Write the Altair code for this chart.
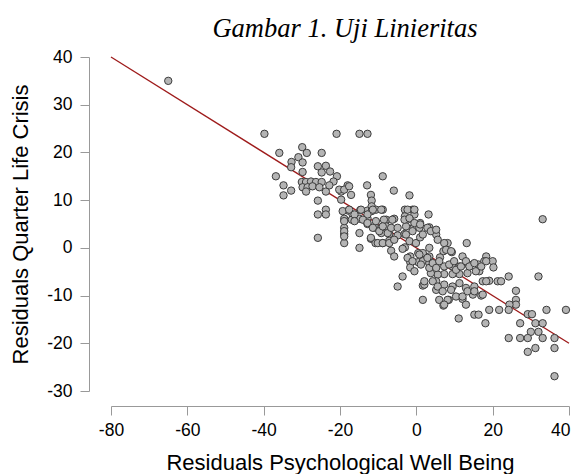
import altair as alt
import pandas as pd

title_text = "Gambar 1. Uji Linieritas"
x_title = "Residuals Psychological Well Being"
y_title = "Residuals Quarter Life Crisis"
x_ticks = [-80, -60, -40, -20, 0, 20, 40]
y_ticks = [-30, -20, -10, 0, 10, 20, 30, 40]

# regression line end points
line_x = [-80, 40]
line_y = [40, -20]

x_vals = [
    -65.0, -39.8, -20.9, -14.9, -12.8, -35.9, -29.9, -28.7, -30.9, -29.8,
    -32.7, -32.8, -24.8, -25.8, -23.7, -24.8, -22.6, -29.8, -36.8, -20.8,
    -21.7, -34.8, -32.8, -34.8, -30.0, -28.9, -27.6, -26.3, -24.8, -29.8,
    -28.5, -27.2, -25.4, -28.9, -23.7, -22.8, -19.7, -19.7, -25.8, -23.7,
    -25.8, -23.7, -25.8,
    -8.8, -18.0, -12.9, -17.1, -5.9, -1.8, -11.9, -11.7, -17.8, -16.7,
    -14.7, -12.8, -11.7, -11.7, -10.6, -8.8, -18.9, -16.9, -14.9, -12.8,
    -18.9, -18.9, -18.9, -14.9, -14.9, -12.8, -10.7, -9.2, -7.9, -7.9,
    -5.8, -9.2, -11.9, -10.7, -8.8, -7.1, -7.1, -4.9, -3.0, -3.0,
    -1.0, -1.8, -0.5, 1.0, -2.7, -0.7, -3.1, -1.8, -0.1, 1.0,
    -3.0, -6.6, -5.8, -3.6, -1.6, -1.6, -1.6, -0.5, -3.6, -4.9,
    1.7, 1.7, 0.5, 0.5,
    3.2, 3.4, 5.2, 1.7, 8.2, 13.2, 9.3, 7.1, 3.4, 3.4,
    1.7, 1.7, 3.4, 6.2, 7.3, 9.5, 11.3, 12.1, 13.7, 16.3,
    18.3, 17.8, 20.0, 20.2, 16.5, 17.4, 19.1, 13.4, 11.3, 9.5,
    7.3, 5.6, 3.8, 2.1, 5.2, 5.2, 7.3, 9.5, 11.3, 13.0,
    14.8, 15.2, 17.0, 12.1, 8.5, 6.0, 7.1, 13.0, 19.1, 15.2,
    16.3, 11.1, 18.1, 21.3, 21.7,
    24.2, 22.2, 32.0, 26.1, 26.1, 26.1, 24.4, 24.2, 29.2, 30.3,
    34.1, 39.2, 27.2, 31.2, 33.1, 30.0, 32.0, 24.2, 27.2, 29.2,
    33.1, 36.2, 31.2, 36.2, 29.2, 36.2, 33.1,
    -20.2, -18.9, -17.6, -19.3, -17.6, -16.2, -14.5, -12.8, -11.4, -9.2,
    -18.9, -16.2, -14.0, -12.8, -10.6, -8.5, -6.3, -18.9, -18.9,
    -11.4, -9.7, -8.8, -7.5, -6.6, -11.9, -10.1, -8.8, -7.1, -5.8,
    -4.9, -3.1, -1.8, -0.5, -2.3, -0.5, -2.7, -1.0, 0.8, 1.0,
    2.9, 3.8, 5.2, 5.6, 7.3, 7.8, 9.1,
    -2.3, -1.0, 0.8, 1.2, 2.9, 3.4, 4.3, 5.2, 6.0, 8.6,
    9.9, 10.4, 11.7, 13.0, 13.9, 15.2, 15.6, 17.0, 18.3,
    2.1, 4.3, 5.6, 6.9, 8.2, 7.3, 9.1, 10.4, 12.1, 13.4,
    15.2, 17.4, 18.3,
]

y_vals = [
    35.0, 23.9, 23.9, 23.9, 23.9, 19.9, 21.1, 19.9, 19.0, 17.9,
    18.0, 16.9, 19.9, 17.1, 17.2, 15.8, 16.0, 15.9, 15.0, 15.0,
    13.9, 13.1, 12.0, 11.0, 13.8, 13.8, 13.9, 13.8, 13.8, 12.7,
    12.7, 12.9, 12.7, 11.8, 11.8, 13.1, 11.8, 10.1, 9.9, 8.0,
    7.0, 7.0, 2.1,
    15.0, 13.1, 13.1, 11.1, 12.0, 11.0, 11.1, 9.9, 7.8, 7.0,
    7.9, 7.8, 8.7, 7.7, 8.0, 8.0, 6.1, 5.9, 6.1, 6.2,
    4.2, 2.9, 1.0, 3.1, 0.0, 5.0, 4.2, 4.2, 5.9, 4.5,
    6.1, 3.1, 1.9, 1.0, 1.0, 2.9, 1.5, 2.6, 8.0, 6.6,
    8.0, 6.1, 7.0, 5.2, 4.5, 4.3, 2.9, 1.4, 1.0, 2.2,
    0.1, -0.6, -1.8, -0.2, -1.8, -3.0, -4.1, -4.9, -6.0, -8.1,
    -7.9, -10.9, -3.0, -1.1,
    7.0, 4.3, 2.8, 2.8, 1.0, 1.0, -0.9, -0.7, 0.0, -1.8,
    -1.1, -2.8, -3.2, -2.0, -3.9, -3.9, -3.9, -1.8, -3.5, -3.5,
    -1.8, -2.8, -2.8, -4.1, -4.9, -7.0, -6.9, -5.3, -5.5, -5.5,
    -5.5, -5.6, -5.3, -7.7, -7.0, -8.8, -7.7, -8.1, -7.4, -8.4,
    -9.8, -8.1, -10.0, -10.7, -10.9, -10.9, -12.1, -11.9, -13.0, -14.0,
    -14.0, -14.8, -15.8, -7.0, -13.0,
    -6.0, -7.0, -6.0, -9.0, -10.9, -11.9, -11.9, -13.0, -13.9, -13.9,
    -13.0, -13.0, -15.8, -15.8, -15.8, -17.6, -17.6, -18.9, -18.9, -18.9,
    -18.9, -18.9, -21.0, -21.0, -21.8, -26.9, 6.0,
    12.2, 12.2, 12.9, 7.7, 8.0, 7.0, 8.0, 7.0, 8.0, 8.0,
    5.6, 5.6, 5.9, 5.2, 5.6, 5.9, 5.9, 3.5, 2.4,
    4.2, 3.5, 4.5, 3.1, 4.2, 2.1, 1.0, 1.0, 1.0, 1.7,
    4.2, 5.9, 6.2, 5.2, 8.0, 8.0, 2.8, 3.5, 4.2, 4.9,
    4.2, 3.5, 3.8, 1.7, 1.0, -0.4, -0.7,
    -2.1, -2.8, -1.4, -3.5, -2.1, -4.2, -3.2, -4.2, -2.8, -3.5,
    -2.8, -4.6, -3.9, -2.8, -3.9, -3.2, -4.9, -3.9, -2.8,
    -7.0, -7.0, -8.1, -9.1, -10.9, -11.9, -8.8, -10.2, -10.2, -9.1,
    -9.1, -9.8, -7.0,
]

pts = pd.DataFrame({"x": x_vals, "y": y_vals})
ln = pd.DataFrame({"x": line_x, "y": line_y})

x_scale = alt.Scale(domain=[-80, 40], nice=False, zero=False)
y_scale = alt.Scale(domain=[-30, 40], nice=False, zero=False)

axis_common = dict(
    grid=False,
    domainColor="#999999",
    tickColor="#999999",
    tickSize=9,
    labelFont="Liberation Sans",
    labelFontSize=17.5,
    labelColor="black",
    labelExpr="'' + datum.value",
    titleFont="Liberation Sans",
    titleFontSize=22,
    titleFontWeight="normal",
    titleColor="black",
)

x_axis = alt.Axis(
    values=x_ticks, title=x_title, offset=15, labelPadding=6, titlePadding=14,
    labelAlign={"condition": {"test": "datum.value == 40", "value": "right"}, "value": "center"},
    labelOffset={"condition": {"test": "datum.value == 40", "value": 1}, "value": 0},
    **axis_common,
)
y_axis = alt.Axis(values=y_ticks, title=y_title, offset=22, labelPadding=8,
                  titlePadding=14, **axis_common)

line = alt.Chart(ln).mark_line(color="#9e1b1b", strokeWidth=1.3).encode(
    x=alt.X("x:Q", scale=x_scale, axis=x_axis),
    y=alt.Y("y:Q", scale=y_scale, axis=y_axis),
)

points = alt.Chart(pts).mark_circle(
    size=55, fill="#b4b4b4", stroke="#3c3c3c", strokeWidth=1, opacity=1
).encode(
    x=alt.X("x:Q", scale=x_scale, axis=x_axis),
    y=alt.Y("y:Q", scale=y_scale, axis=y_axis),
)

chart = alt.layer(line, points).properties(
    width=458,
    height=334,
    title=alt.TitleParams(
        title_text,
        font="Liberation Serif",
        fontStyle="italic",
        fontSize=26.5,
        fontWeight="normal",
        color="black",
        anchor="middle",
        frame="group",
        dx=5,
        offset=6,
    ),
    padding={"left": 1, "top": 7, "right": 0, "bottom": 0},
).configure_view(stroke=None)

chart.save("out.html", embed_options={"renderer": "svg", "actions": False})
